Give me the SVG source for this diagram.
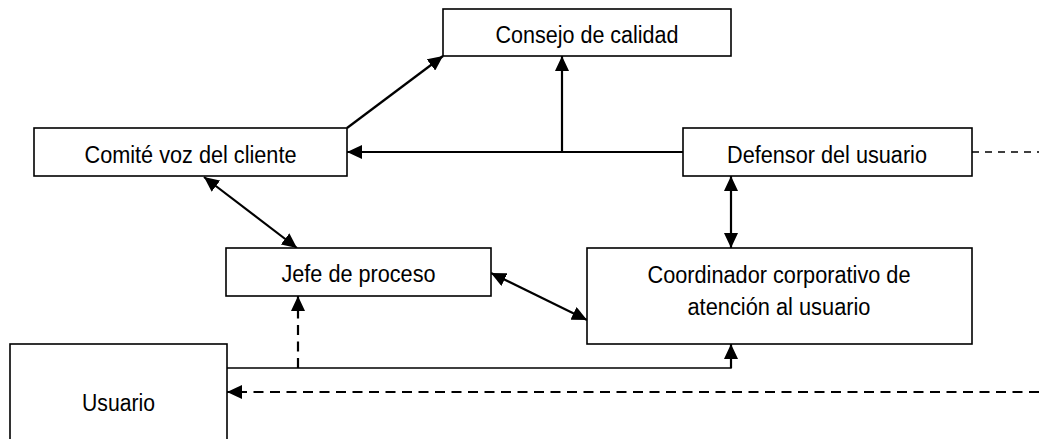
<svg xmlns="http://www.w3.org/2000/svg" width="1039" height="439" viewBox="0 0 1039 439">
<style>
.box{fill:#fff;stroke:#000;stroke-width:1.6}
.lbl{font-family:"Liberation Sans",Arial,sans-serif;font-size:23.5px;fill:#000;text-anchor:middle}
.c{fill:none;stroke:#000;stroke-width:2.2}
.thin{fill:none;stroke:#000;stroke-width:1.5}
.d1{fill:none;stroke:#000;stroke-width:1.5;stroke-dasharray:7 6}
.d2{fill:none;stroke:#000;stroke-width:2.2;stroke-dasharray:10 6.5}
</style>
<defs>
<marker id="ah" markerWidth="16" markerHeight="14" refX="15" refY="7" orient="auto" markerUnits="userSpaceOnUse">
<path d="M0,0 L15,7 L0,14 Z" fill="#000"/>
</marker>
<marker id="as" markerWidth="16" markerHeight="14" refX="1" refY="7" orient="auto" markerUnits="userSpaceOnUse">
<path d="M16,0 L1,7 L16,14 Z" fill="#000"/>
</marker>
</defs>
<rect width="1039" height="439" fill="#fff"/>
<g id="connectors">
<line class="c" x1="347" y1="128" x2="443" y2="56" marker-end="url(#ah)"/>
<line class="c" x1="683" y1="152" x2="347" y2="152" marker-end="url(#ah)"/>
<line class="c" x1="562" y1="152" x2="562" y2="56" marker-end="url(#ah)"/>
<line class="d1" x1="972" y1="152" x2="1039" y2="152"/>
<line class="c" x1="204" y1="177" x2="297" y2="248" marker-start="url(#as)" marker-end="url(#ah)"/>
<line class="c" x1="731" y1="176" x2="731" y2="248" marker-start="url(#as)" marker-end="url(#ah)"/>
<line class="c" x1="491" y1="273" x2="587" y2="320" marker-start="url(#as)" marker-end="url(#ah)"/>
<polyline class="thin" points="227,368 731,368 731,360"/>
<line class="c" x1="731" y1="368" x2="731" y2="344" marker-end="url(#ah)"/>
<line class="d2" x1="298" y1="368" x2="298" y2="296" marker-end="url(#ah)"/>
<line class="d2" x1="1039" y1="392" x2="227" y2="392" marker-end="url(#ah)"/>
</g>
<g id="consejo">
<rect class="box" x="443" y="9" width="288" height="47"/>
<text class="lbl" x="587" y="43" textLength="183" lengthAdjust="spacingAndGlyphs">Consejo de calidad</text>
</g>
<g id="comite">
<rect class="box" x="34" y="128" width="313" height="48"/>
<text class="lbl" x="190.5" y="163" textLength="212" lengthAdjust="spacingAndGlyphs">Comité voz del cliente</text>
</g>
<g id="defensor">
<rect class="box" x="683" y="128" width="289" height="48"/>
<text class="lbl" x="827" y="163" textLength="200" lengthAdjust="spacingAndGlyphs">Defensor del usuario</text>
</g>
<g id="jefe">
<rect class="box" x="226" y="248" width="265" height="48"/>
<text class="lbl" x="358.5" y="282" textLength="154" lengthAdjust="spacingAndGlyphs">Jefe de proceso</text>
</g>
<g id="coordinador">
<rect class="box" x="587" y="248" width="385" height="96"/>
<text class="lbl" x="779" y="283" textLength="263" lengthAdjust="spacingAndGlyphs">Coordinador corporativo de</text>
<text class="lbl" x="779" y="315" textLength="183" lengthAdjust="spacingAndGlyphs">atención al usuario</text>
</g>
<g id="usuario">
<rect class="box" x="10" y="344" width="217" height="110"/>
<text class="lbl" x="118.5" y="411" textLength="73" lengthAdjust="spacingAndGlyphs">Usuario</text>
</g>
</svg>
